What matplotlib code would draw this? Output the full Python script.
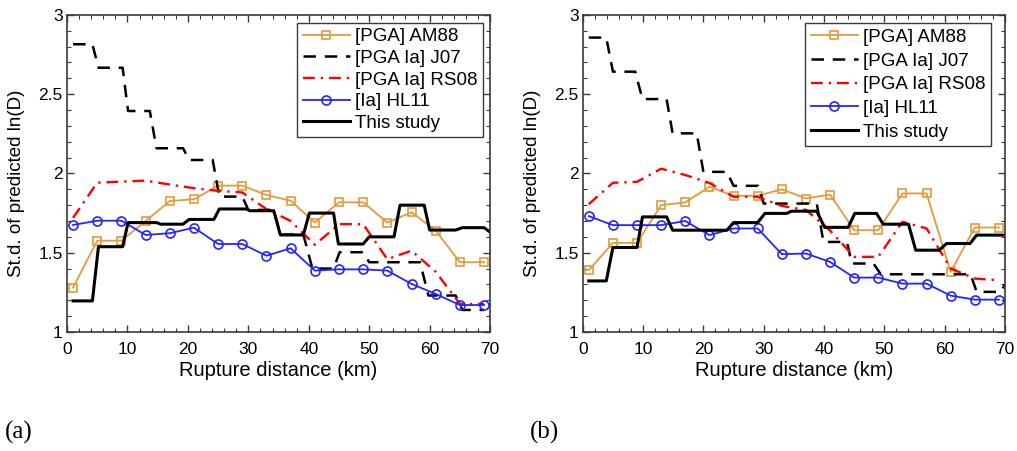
import matplotlib
matplotlib.use("Agg")
import matplotlib.pyplot as plt
from matplotlib.ticker import MultipleLocator

plt.rcParams["font.family"] = ["Liberation Sans", "DejaVu Sans"]

# marker-based series, sampled every 4 km
DIST = [1, 5, 9, 13, 17, 21, 25, 29, 33, 37, 41, 45, 49, 53, 57, 61, 65, 69]

AM88_A = [1.28, 1.576, 1.576, 1.70, 1.826, 1.837, 1.923, 1.923, 1.864, 1.828,
          1.69, 1.818, 1.818, 1.69, 1.755, 1.64, 1.44, 1.44]
RS08_A = [1.72, 1.942, 1.948, 1.955, 1.93, 1.907, 1.89, 1.88, 1.775, 1.70,
          1.55, 1.68, 1.68, 1.459, 1.513, 1.38, 1.177, 1.177]
HL11_A = [1.675, 1.702, 1.702, 1.612, 1.623, 1.658, 1.555, 1.555, 1.481, 1.528,
          1.387, 1.395, 1.395, 1.387, 1.303, 1.24, 1.17, 1.17]

AM88_B = [1.389, 1.562, 1.562, 1.80, 1.817, 1.916, 1.859, 1.859, 1.90, 1.842,
          1.867, 1.642, 1.642, 1.874, 1.874, 1.379, 1.659, 1.659]
RS08_B = [1.806, 1.941, 1.947, 2.03, 1.99, 1.94, 1.853, 1.853, 1.795, 1.77,
          1.64, 1.474, 1.474, 1.695, 1.653, 1.40, 1.337, 1.326]
HL11_B = [1.731, 1.674, 1.674, 1.674, 1.70, 1.611, 1.653, 1.653, 1.491, 1.495,
          1.442, 1.343, 1.343, 1.305, 1.305, 1.229, 1.204, 1.204]

# step-like series (breakpoints)
J07_A_X = [1, 4.2, 5.2, 9.2, 10.1, 13.7, 14.8, 19.2, 20.2, 24.1, 25.2, 29.0, 30.0,
           34.2, 35.3, 39.1, 40.6, 44.1, 45.1, 49.0, 50.0, 58.4, 59.8, 64.3, 65.4, 69]
J07_A_Y = [2.815, 2.815, 2.667, 2.667, 2.394, 2.394, 2.159, 2.159, 2.085, 2.085,
           1.854, 1.854, 1.77, 1.77, 1.615, 1.615, 1.40, 1.40, 1.503, 1.503,
           1.44, 1.44, 1.23, 1.23, 1.139, 1.139]
STUDY_A_X = [1, 4.2, 5.2, 9.2, 10.1, 14.8, 15.5, 19.2, 20.2, 24.3, 25.2, 29.7, 30.2,
             34.2, 35.3, 39.1, 40.1, 44.1, 44.9, 49.0, 50.0, 54.1, 55.1, 59.1, 60.0,
             64.3, 65.4, 69, 70]
STUDY_A_Y = [1.196, 1.196, 1.538, 1.538, 1.69, 1.69, 1.68, 1.68, 1.71, 1.71,
             1.776, 1.776, 1.765, 1.765, 1.612, 1.612, 1.75, 1.75, 1.555, 1.555,
             1.60, 1.60, 1.80, 1.80, 1.643, 1.643, 1.658, 1.658, 1.63]

J07_B_X = [1, 3.9, 5.0, 8.7, 9.9, 13.9, 14.9, 18.9, 20.0, 23.9, 25.0, 29.1, 30.0,
           38.8, 39.9, 43.8, 44.6, 48.2, 49.4, 64.3, 65.3, 69.3, 70]
J07_B_Y = [2.857, 2.857, 2.642, 2.642, 2.469, 2.469, 2.253, 2.253, 2.01, 2.01,
           1.922, 1.922, 1.81, 1.81, 1.568, 1.568, 1.432, 1.432, 1.364, 1.364,
           1.253, 1.253, 1.30]
STUDY_B_X = [1, 3.9, 5.0, 9.0, 9.9, 13.9, 14.9, 23.9, 25.0, 29.0, 30.2, 33.8, 34.6,
             38.8, 40.1, 44.0, 45.1, 48.7, 49.8, 54.0, 55.2, 59.1, 60.3, 64.2, 65.3, 70]
STUDY_B_Y = [1.322, 1.322, 1.533, 1.533, 1.726, 1.726, 1.642, 1.642, 1.69, 1.69,
             1.748, 1.748, 1.762, 1.762, 1.66, 1.66, 1.748, 1.748, 1.68, 1.68,
             1.516, 1.516, 1.558, 1.558, 1.611, 1.611]

LABELS = ["[PGA] AM88", "[PGA Ia] J07", "[PGA Ia] RS08", "[Ia] HL11", "This study"]
ORANGE = "#E39A3B"
BLUE = "#2424FF"
SPINE = "#3a3a3a"


def draw_panel(ax, am88, j07_x, j07_y, rs08, hl11, st_x, st_y, leg_anchor, leg_space):
    ax.plot(DIST, am88, color=ORANGE, lw=1.3, marker="s", ms=5.5, mfc="none",
            mec=ORANGE, mew=1.2, label=LABELS[0])
    ax.plot(j07_x, j07_y, color="black", lw=1.8, dashes=(5, 3.5), label=LABELS[1])
    ax.plot(DIST, rs08, color="red", lw=1.7, dashes=(5, 2.5, 1, 2.5), label=LABELS[2])
    ax.plot(DIST, hl11, color=BLUE, lw=1.3, marker="o", ms=6.5, mfc="none",
            mec=BLUE, mew=1.2, label=LABELS[3])
    ax.plot(st_x, st_y, color="black", lw=2.2, label=LABELS[4])

    ax.set_xlim(0, 70)
    ax.set_ylim(1, 3)
    ax.xaxis.set_major_locator(MultipleLocator(10))
    ax.xaxis.set_minor_locator(MultipleLocator(2))
    ax.yaxis.set_minor_locator(MultipleLocator(0.1))
    ax.set_yticks([1, 1.5, 2, 2.5, 3], ["1", "1.5", "2", "2.5", "3"])
    ax.tick_params(which="both", direction="in", top=True, right=True,
                   color=SPINE, labelsize=12.5)
    ax.tick_params(axis="x", pad=7)
    ax.tick_params(axis="y", pad=3)
    ax.tick_params(which="major", length=5, width=1.0)
    ax.tick_params(which="minor", length=3, width=0.8)
    for s in ax.spines.values():
        s.set_color(SPINE)
        s.set_linewidth(1.2)
    ax.set_xlabel("Rupture distance (km)", fontsize=14.5)
    ax.set_ylabel("St.d. of predicted ln(D)", fontsize=13.5)
    ax.xaxis.set_label_coords(0.5, -0.09)
    ax.yaxis.set_label_coords(-0.099, 0.47)

    leg = ax.legend(loc="upper right", bbox_to_anchor=leg_anchor, fontsize=13.5,
                    handlelength=2.5, handletextpad=0.27, labelspacing=leg_space,
                    borderpad=0.3, borderaxespad=0, fancybox=False, framealpha=1)
    leg.get_frame().set_edgecolor(SPINE)
    leg.get_frame().set_linewidth(1.0)


fig = plt.figure(figsize=(10.17, 4.51), dpi=100)
ax_a = fig.add_axes([0.0659, 0.2639, 0.416, 0.703])
ax_b = fig.add_axes([0.573, 0.2639, 0.4152, 0.703])

draw_panel(ax_a, AM88_A, J07_A_X, J07_A_Y, RS08_A, HL11_A, STUDY_A_X, STUDY_A_Y,
           (0.983, 0.976), 0.24)
draw_panel(ax_b, AM88_B, J07_B_X, J07_B_Y, RS08_B, HL11_B, STUDY_B_X, STUDY_B_Y,
           (0.967, 0.974), 0.35)

fig.text(0.005, 0.028, "(a)", family=["Liberation Serif", "DejaVu Serif"], fontsize=18)
fig.text(0.521, 0.028, "(b)", family=["Liberation Serif", "DejaVu Serif"], fontsize=18)

fig.savefig("out.png", dpi=100)
